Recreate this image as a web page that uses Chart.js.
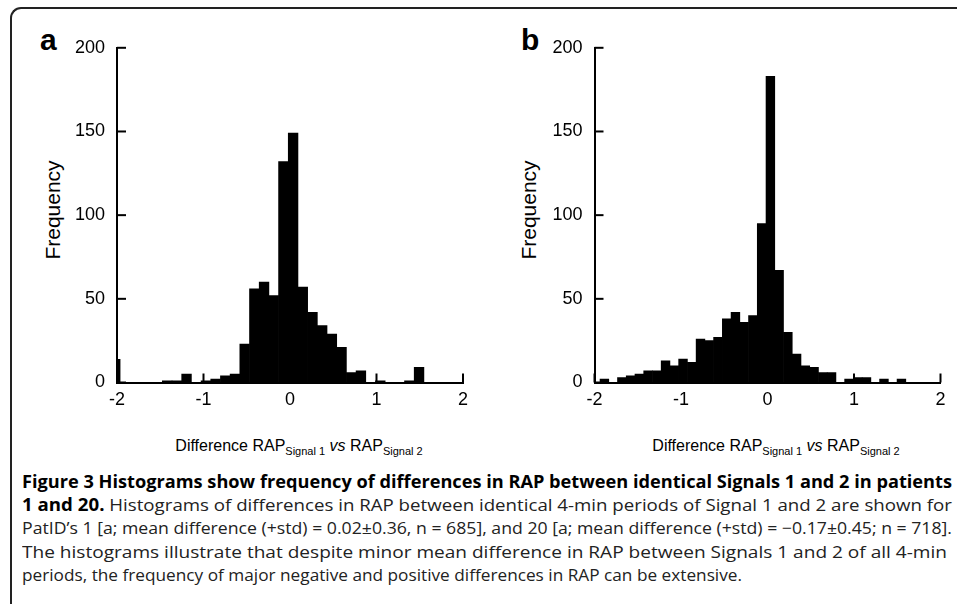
<!DOCTYPE html>
<html><head><meta charset="utf-8">
<script src="https://cdn.jsdelivr.net/npm/chart.js@4"></script>
<style>
html,body{margin:0;padding:0;background:#fff;}
body{width:957px;height:604px;position:relative;overflow:hidden;font-family:"Liberation Sans",Arial,sans-serif;color:#000;}
#frame{position:absolute;left:10px;top:7px;width:970px;height:620px;border-top:2px solid #222;border-left:2px solid #222;border-top-left-radius:11px;box-sizing:border-box;}
.cv{position:absolute;top:25px;}
.lbl{position:absolute;font-weight:bold;font-size:30px;line-height:30px;}
.ytitle{position:absolute;font-size:21px;line-height:21px;transform:translate(-50%,-50%) rotate(-90deg);white-space:nowrap;}
.xtitle{position:absolute;top:437px;font-size:16px;line-height:18px;transform:translateX(-50%);white-space:nowrap;}
.xtitle sub{font-size:11px;vertical-align:-4px;line-height:0;}
.cap{position:absolute;left:22px;display:inline-block;white-space:nowrap;font-family:"Open Sans","Noto Sans",sans-serif;font-size:17px;line-height:23px;color:#222;transform-origin:0 0;}
.cap b{color:#000;font-weight:700;}
</style></head>
<body>
<div id="frame"></div>
<div class="lbl" style="left:40px;top:25px;">a</div>
<div class="lbl" style="left:521px;top:25px;">b</div>
<div class="ytitle" style="left:52px;top:210px;">Frequency</div>
<div class="ytitle" style="left:528px;top:210px;">Frequency</div>
<div class="xtitle" style="left:299px;">Difference RAP<sub>Signal 1</sub> <i>vs</i> RAP<sub>Signal 2</sub></div>
<div class="xtitle" style="left:776px;">Difference RAP<sub>Signal 1</sub> <i>vs</i> RAP<sub>Signal 2</sub></div>
<canvas id="ca" class="cv" style="left:60px;" width="420" height="395"></canvas>
<canvas id="cb" class="cv" style="left:537px;" width="420" height="395"></canvas>
<div class="cap" data-w="930" style="top:470px;"><b>Figure 3 Histograms show frequency of differences in RAP between identical Signals 1 and 2 in patients</b></div>
<div class="cap" data-w="930" style="top:493px;"><b>1 and 20.</b> Histograms of differences in RAP between identical 4-min periods of Signal 1 and 2 are shown for</div>
<div class="cap" data-w="930" style="top:516px;">PatID’s 1 [a; mean difference (+std) = 0.02±0.36, n = 685], and 20 [a; mean difference (+std) = −0.17±0.45; n = 718].</div>
<div class="cap" data-w="925" style="top:540px;">The histograms illustrate that despite minor mean difference in RAP between Signals 1 and 2 of all 4-min</div>
<div class="cap" data-w="720" style="top:563px;">periods, the frequency of major negative and positive differences in RAP can be extensive.</div>
<script>
// Panel a: bin centres and counts
const binsA = [-1.868,-1.756,-1.644,-1.532,-1.42,-1.308,-1.196,-1.084,-0.972,-0.86,-0.748,-0.636,-0.524,-0.412,-0.3,-0.188,-0.076,0.036,0.148,0.26,0.372,0.484,0.596,0.708,0.82,0.932,1.044,1.156,1.268,1.38,1.492,1.604,1.716,1.828,1.94];
const countsA = [0,0,0,0,1,1,5,0,1,2,4,5,23,56,60,52,132,149,57,42,34,29,21,6,7,0,1,0,0,1,9,0,0,0,0];
const edgeBinA = [-1.98];
const edgeCountA = [14];
// Panel b: bin centres and counts
const binsB = [-1.8855,-1.7845,-1.6835,-1.5825,-1.4815,-1.3805,-1.2795,-1.1785,-1.0775,-0.9765,-0.8755,-0.7745,-0.6735,-0.5725,-0.4715,-0.3705,-0.2695,-0.1685,-0.0675,0.0335,0.1345,0.2355,0.3365,0.4375,0.5385,0.6395,0.7405,0.8415,0.9425,1.0435,1.1445,1.2455,1.3465,1.4475,1.5485,1.6495,1.7505,1.8515,1.9525];
const countsB = [2,0,3,4,5,7,7,13,10,14,12,26,25,27,38,42,36,40,95,183,67,30,17,10,9,6,6,0,2,3,3,0,2,0,2,0,0,0,0];
const xTicks = [-2,-1,0,1,2];
const yTicks = [0,50,100,150,200];

function fitCaptions(){
  document.querySelectorAll('.cap').forEach(el=>{
    el.style.transform = 'none';
    const w = el.getBoundingClientRect().width;
    el.style.transform = 'scaleX(' + (Number(el.dataset.w)/w) + ')';
  });
}
fitCaptions();
if (document.fonts && document.fonts.ready) document.fonts.ready.then(fitCaptions);

const innerTicks = {
  id:'innerTicks',
  beforeDatasetsDraw(chart){
    const ctx = chart.ctx, area = chart.chartArea;
    const xs = chart.scales.x, ys = chart.scales.y;
    ctx.save(); ctx.strokeStyle = '#000'; ctx.lineWidth = 2;
    ys.ticks.forEach((t,i)=>{const p = ys.getPixelForTick(i); ctx.beginPath(); ctx.moveTo(area.left,p); ctx.lineTo(area.left+9,p); ctx.stroke();});
    xs.ticks.forEach((t,i)=>{const p = xs.getPixelForTick(i); ctx.beginPath(); ctx.moveTo(p,area.bottom); ctx.lineTo(p,area.bottom-9); ctx.stroke();});
    ctx.restore();
  }
};

function pts(xs, ys){ return xs.map((x,i)=>({x:x, y:ys[i]})); }

function makeChart(id, bins, counts, extra, yW, padR){
  const datasets = [{
    data: pts(bins, counts), backgroundColor:'#000', borderWidth:0,
    barPercentage:1, categoryPercentage:1, grouped:false
  }];
  if (extra) datasets.push({
    data: pts(extra[0], extra[1]), backgroundColor:'#000', borderWidth:0,
    barPercentage:0.35, categoryPercentage:1, grouped:false
  });
  return new Chart(document.getElementById(id), {
    type:'bar',
    data:{datasets},
    plugins:[innerTicks],
    options:{
      responsive:false, animation:false, devicePixelRatio:1,
      layout:{padding:{top:10,right:padR,bottom:0,left:0}},
      plugins:{legend:{display:false}, tooltip:{enabled:false}},
      scales:{
        x:{type:'linear', min:-2, max:2, offset:false,
           afterBuildTicks:(s)=>{s.ticks = xTicks.map(v=>({value:v}));},
           afterFit:(s)=>{s.height = 37.5;},
           grid:{display:false, drawTicks:false},
           border:{display:true, color:'#000', width:2},
           ticks:{padding:7, color:'#000', font:{family:'"Liberation Sans", Arial, sans-serif', size:18}, callback:(v)=>String(v), maxRotation:0, autoSkip:false}},
        y:{min:0, max:200,
           afterBuildTicks:(s)=>{s.ticks = yTicks.map(v=>({value:v}));},
           afterFit:(s)=>{s.width = yW;},
           grid:{display:false, drawTicks:false},
           border:{display:true, color:'#000', width:2},
           ticks:{padding:12, color:'#000', font:{family:'"Liberation Sans", Arial, sans-serif', size:18}, callback:(v)=>String(v)}}
      }
    }
  });
}
makeChart('ca', binsA, countsA, [edgeBinA, edgeCountA], 57, 17);
makeChart('cb', binsB, countsB, null, 57.5, 16.5);
</script>
</body></html>
